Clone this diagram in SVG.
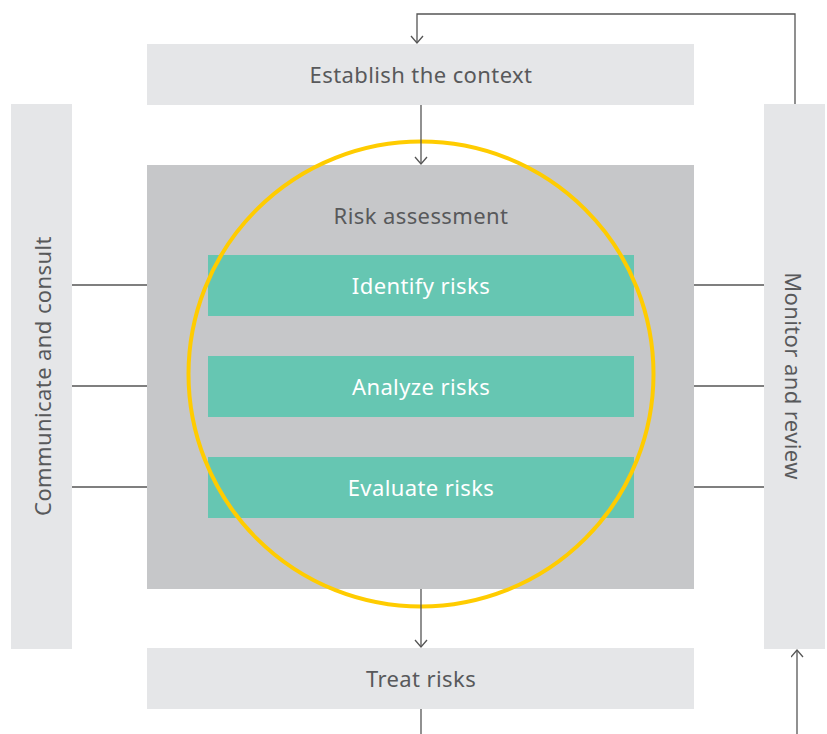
<svg xmlns="http://www.w3.org/2000/svg" width="827" height="734" viewBox="0 0 827 734">
<defs>
<marker id="arr" markerWidth="12" markerHeight="14" refX="8" refY="6.5" orient="auto" markerUnits="userSpaceOnUse">
<path d="M1,0.5 L8,6.5 L1,12.5" fill="none" stroke="#555" stroke-width="1.3"/>
</marker>
</defs>
<style>
.lt{fill:#e5e6e8}
.dk{fill:#c6c7c9}
.tl{fill:#66c6b2}
.t{font-family:"Noto Sans",Lato,sans-serif;font-size:22px;letter-spacing:0.4px;fill:#58595b;text-anchor:middle;dominant-baseline:central}
.w{fill:#ffffff}
.c{fill:none;stroke:#555;stroke-width:1.3}
</style>
<rect width="827" height="734" fill="#ffffff"/>
<g id="communicate"><rect class="lt" x="11" y="104" width="61" height="545"/><text class="t" transform="translate(42,376) rotate(-90)">Communicate and consult</text></g>
<g id="monitor"><rect class="lt" x="764" y="104" width="61" height="545"/><text class="t" transform="translate(794,376) rotate(90)">Monitor and review</text></g>
<g id="establish"><rect class="lt" x="147" y="44" width="547" height="61"/><text class="t" x="421" y="74">Establish the context</text></g>
<g id="assessment"><rect class="dk" x="147" y="165" width="547" height="424"/><text class="t" x="421" y="215">Risk assessment</text></g>
<g id="identify"><rect class="tl" x="208" y="255" width="426" height="61"/><text class="t w" x="421" y="285">Identify risks</text></g>
<g id="analyze"><rect class="tl" x="208" y="356" width="426" height="61"/><text class="t w" x="421" y="386">Analyze risks</text></g>
<g id="evaluate"><rect class="tl" x="208" y="457" width="426" height="61"/><text class="t w" x="421" y="487">Evaluate risks</text></g>
<g id="treat"><rect class="lt" x="147" y="648" width="547" height="61"/><text class="t" x="421" y="678">Treat risks</text></g>
<g id="circle"><circle cx="421" cy="374" r="232.5" fill="none" stroke="#ffcc00" stroke-width="4"/></g>
<g id="connectors">
<path class="c" d="M795,104 V14 H417 V43" marker-end="url(#arr)"/>
<path class="c" d="M421,105 V164" marker-end="url(#arr)"/>
<path class="c" d="M421,589 V647" marker-end="url(#arr)"/>
<path class="c" d="M421,709 V734"/>
<path class="c" d="M797,734 V650" marker-end="url(#arr)"/>
<path class="c" d="M72,285 H147 M72,386 H147 M72,487 H147"/>
<path class="c" d="M694,285 H764 M694,386 H764 M694,487 H764"/>
</g>
</svg>
